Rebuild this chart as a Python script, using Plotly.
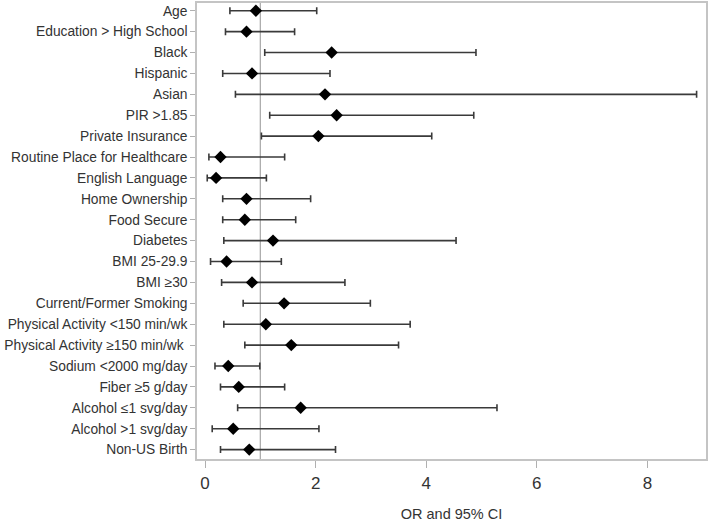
import plotly.graph_objects as go

# predictors, top to bottom
labels = [
    "Age", "Education > High School", "Black", "Hispanic", "Asian",
    "PIR >1.85", "Private Insurance", "Routine Place for Healthcare",
    "English Language", "Home Ownership", "Food Secure", "Diabetes",
    "BMI 25-29.9", "BMI ≥30", "Current/Former Smoking",
    "Physical Activity <150 min/wk", "Physical Activity ≥150 min/wk ",
    "Sodium <2000 mg/day", "Fiber ≥5 g/day", "Alcohol ≤1 svg/day",
    "Alcohol >1 svg/day", "Non-US Birth",
]
odds_ratio = [0.92, 0.75, 2.29, 0.85, 2.17, 2.38, 2.05, 0.28, 0.20, 0.75, 0.72,
              1.23, 0.39, 0.85, 1.43, 1.10, 1.56, 0.42, 0.61, 1.73, 0.51, 0.80]
ci_low = [0.45, 0.37, 1.08, 0.32, 0.55, 1.17, 1.02, 0.07, 0.04, 0.32, 0.32,
          0.34, 0.10, 0.30, 0.69, 0.34, 0.72, 0.18, 0.28, 0.59, 0.13, 0.28]
ci_high = [2.02, 1.62, 4.90, 2.26, 8.89, 4.86, 4.10, 1.44, 1.11, 1.91, 1.64,
           4.54, 1.38, 2.53, 2.99, 3.71, 3.50, 0.99, 1.44, 5.28, 2.06, 2.36]
x_ticks = [0, 2, 4, 6, 8]

rows = list(range(len(labels)))
err_plus = [h - o for h, o in zip(ci_high, odds_ratio)]
err_minus = [o - l for o, l in zip(odds_ratio, ci_low)]

fig = go.Figure()

# reference line at OR = 1
fig.add_shape(type="line", x0=1, x1=1, y0=0, y1=1, yref="paper",
              line=dict(color="#a6a6a6", width=1.2), layer="below")

fig.add_trace(go.Scatter(
    x=odds_ratio, y=rows, mode="markers",
    marker=dict(symbol="diamond", size=9.5, color="black"),
    error_x=dict(type="data", symmetric=False, array=err_plus,
                 arrayminus=err_minus, color="#3a3a3a", thickness=1.6, width=3.5),
    showlegend=False,
))

fig.update_xaxes(
    range=[-0.145, 9.06], tickvals=x_ticks, ticks="outside", ticklen=7,
    ticklabelstandoff=1,
    tickcolor="#b0b0b0", tickfont=dict(size=17, color="#333333"),
    showgrid=False, zeroline=False, showline=True, linecolor="#c4c4c4",
    linewidth=1.5, mirror=True,
    title=dict(text="OR and 95% CI", font=dict(size=14.5, color="#333333"), standoff=18),
)
fig.update_yaxes(
    range=[21.45, -0.37], tickvals=rows, ticktext=labels, ticks="outside",
    ticklen=5, tickcolor="#b0b0b0", tickfont=dict(size=13.8, color="#333333"),
    showgrid=False, zeroline=False, showline=True, linecolor="#c4c4c4",
    linewidth=1.5, mirror=True,
)

fig.update_layout(
    width=709, height=522,
    margin=dict(l=197, r=3, t=3, b=63, autoexpand=False),
    plot_bgcolor="white", paper_bgcolor="white",
    font=dict(family="Liberation Sans, Arial, sans-serif"),
)

fig.write_html("out.html", config={"displayModeBar": False},
               post_script="document.body.style.margin='0';")
